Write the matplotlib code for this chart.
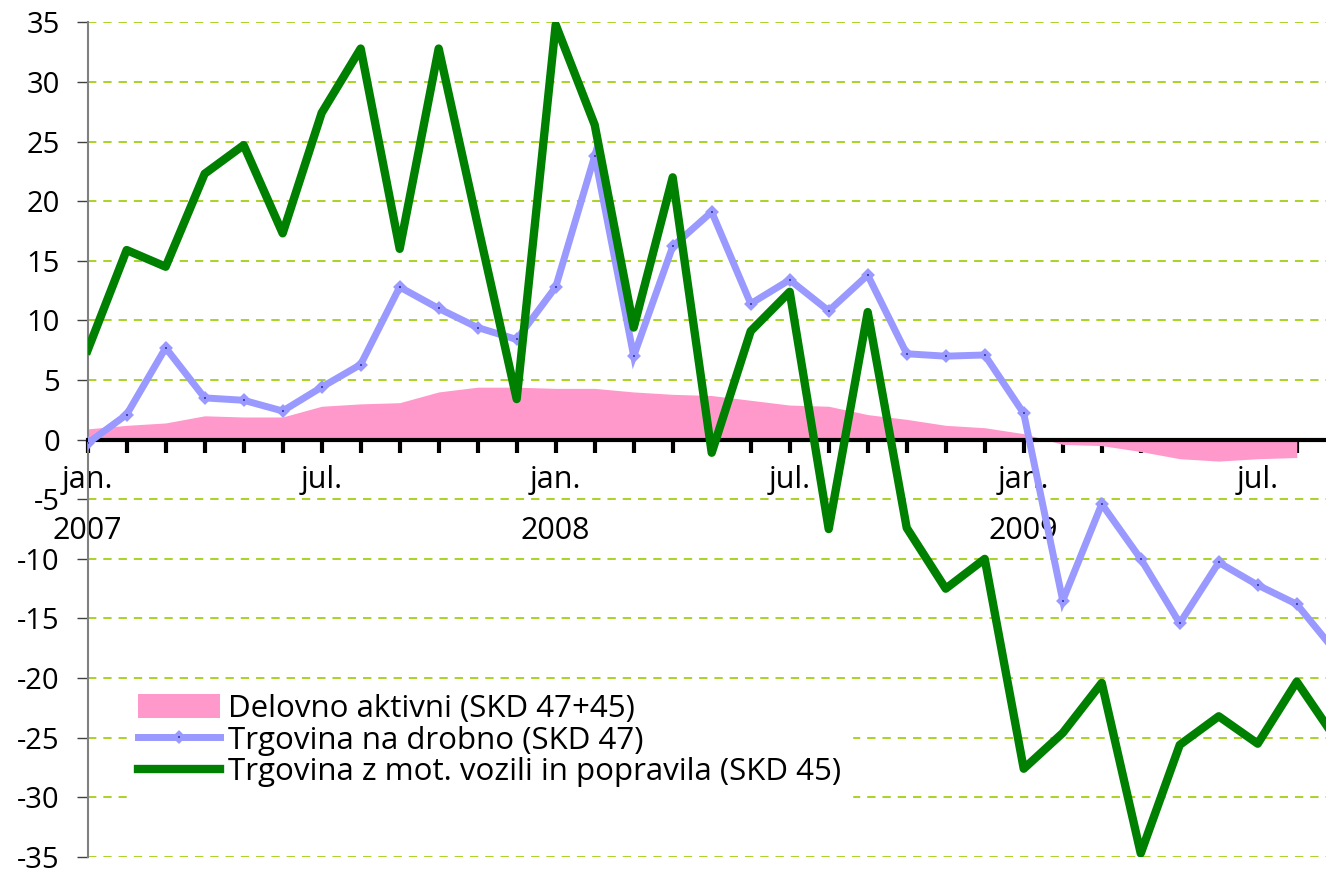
import matplotlib
matplotlib.use("Agg")
import matplotlib.pyplot as plt
import numpy as np

# mesečni podatki jan 2007 - sep 2009
delovno = [0.9, 1.2, 1.4, 2.0, 1.9, 1.9, 2.8, 3.0, 3.1, 4.0, 4.4, 4.4,
           4.3, 4.3, 4.0, 3.8, 3.7, 3.3, 2.9, 2.8, 2.1, 1.7, 1.2, 1.0,
           0.5, -0.4, -0.5, -1.0, -1.6, -1.8, -1.6, -1.5]
drobno = [-0.3, 2.1, 7.7, 3.5, 3.3, 2.4, 4.4, 6.3, 12.8, 11.0, 9.4, 8.4,
          12.8, 23.8, 7.0, 16.2, 19.1, 11.4, 13.4, 10.8, 13.8, 7.2, 7.0, 7.1,
          2.2, -13.5, -5.4, -10.0, -15.4, -10.3, -12.2, -13.8, -17.8]
vozila = [7.5, 15.9, 14.5, 22.3, 24.7, 17.3, 27.4, 32.8, 16.0, 32.8, 18.0, 3.4,
          34.8, 26.4, 9.4, 22.0, -1.1, 9.1, 12.4, -7.5, 10.7, -7.4, -12.5, -10.0,
          -27.6, -24.6, -20.4, -34.7, -25.6, -23.2, -25.5, -20.3, -25.1]

oznake = {0: "jan.\n2007", 6: "jul.", 12: "jan.\n2008", 18: "jul.",
          24: "jan.\n2009", 30: "jul."}
y_ticks = list(range(-35, 40, 5))

plt.rcParams["font.family"] = ["Open Sans", "DejaVu Sans"]
plt.rcParams["lines.scale_dashes"] = False

fig = plt.figure(figsize=(13.26, 8.71), dpi=100)
ax = fig.add_axes([0.0661, 0.0161, 0.9339, 0.9583])

x_d = np.arange(len(delovno))
x_l = np.arange(len(drobno))

ax.fill_between(x_d, delovno, 0, color="#FF99CC", lw=0, zorder=1,
                label="Delovno aktivni (SKD 47+45)")
ax.plot(x_l, drobno, color="#9999FF", lw=5, solid_joinstyle="miter",
        marker="D", ms=4, mfc="#000080", mec="#9999FF", mew=3, zorder=3,
        label="Trgovina na drobno (SKD 47)")
ax.plot(x_l, vozila, color="#008000", lw=6, zorder=4,
        label="Trgovina z mot. vozili in popravila (SKD 45)")

ax.set_xlim(0, 31.75)
ax.set_ylim(-35, 35)

ax.set_yticks(y_ticks)
ax.set_yticklabels([str(v) for v in y_ticks])
ax.yaxis.grid(True, color="#99CC00", lw=1.2, linestyle=(0, (6, 5)))
ax.set_axisbelow(True)

ax.set_xticks(range(len(delovno)))
ax.set_xticklabels([oznake.get(i, "") for i in range(len(delovno))])

for s in ["top", "right"]:
    ax.spines[s].set_visible(False)
ax.spines["left"].set_color("#808080")
ax.spines["left"].set_linewidth(1.5)
ax.spines["bottom"].set_position(("data", 0))
ax.spines["bottom"].set_linewidth(3)
ax.spines["bottom"].set_zorder(2.5)

ax.tick_params(axis="y", length=8, width=1, color="#404040", pad=12, labelsize=21)
ax.tick_params(axis="x", length=9, width=3, color="black", pad=9, labelsize=22)
for lab in ax.get_xticklabels():
    lab.set_linespacing(1.95)

leg = ax.legend(loc="upper left", bbox_to_anchor=(127 / 1326, 1 - 683 / 871),
                bbox_transform=fig.transFigure, fontsize=22.5, frameon=True,
                fancybox=False, edgecolor="white", facecolor="white", framealpha=1,
                borderpad=0.35, borderaxespad=0, handlelength=2.62, handleheight=0.8,
                handletextpad=0.26, labelspacing=0.05)

fig.savefig("out.png", dpi=100)
plt.close(fig)
